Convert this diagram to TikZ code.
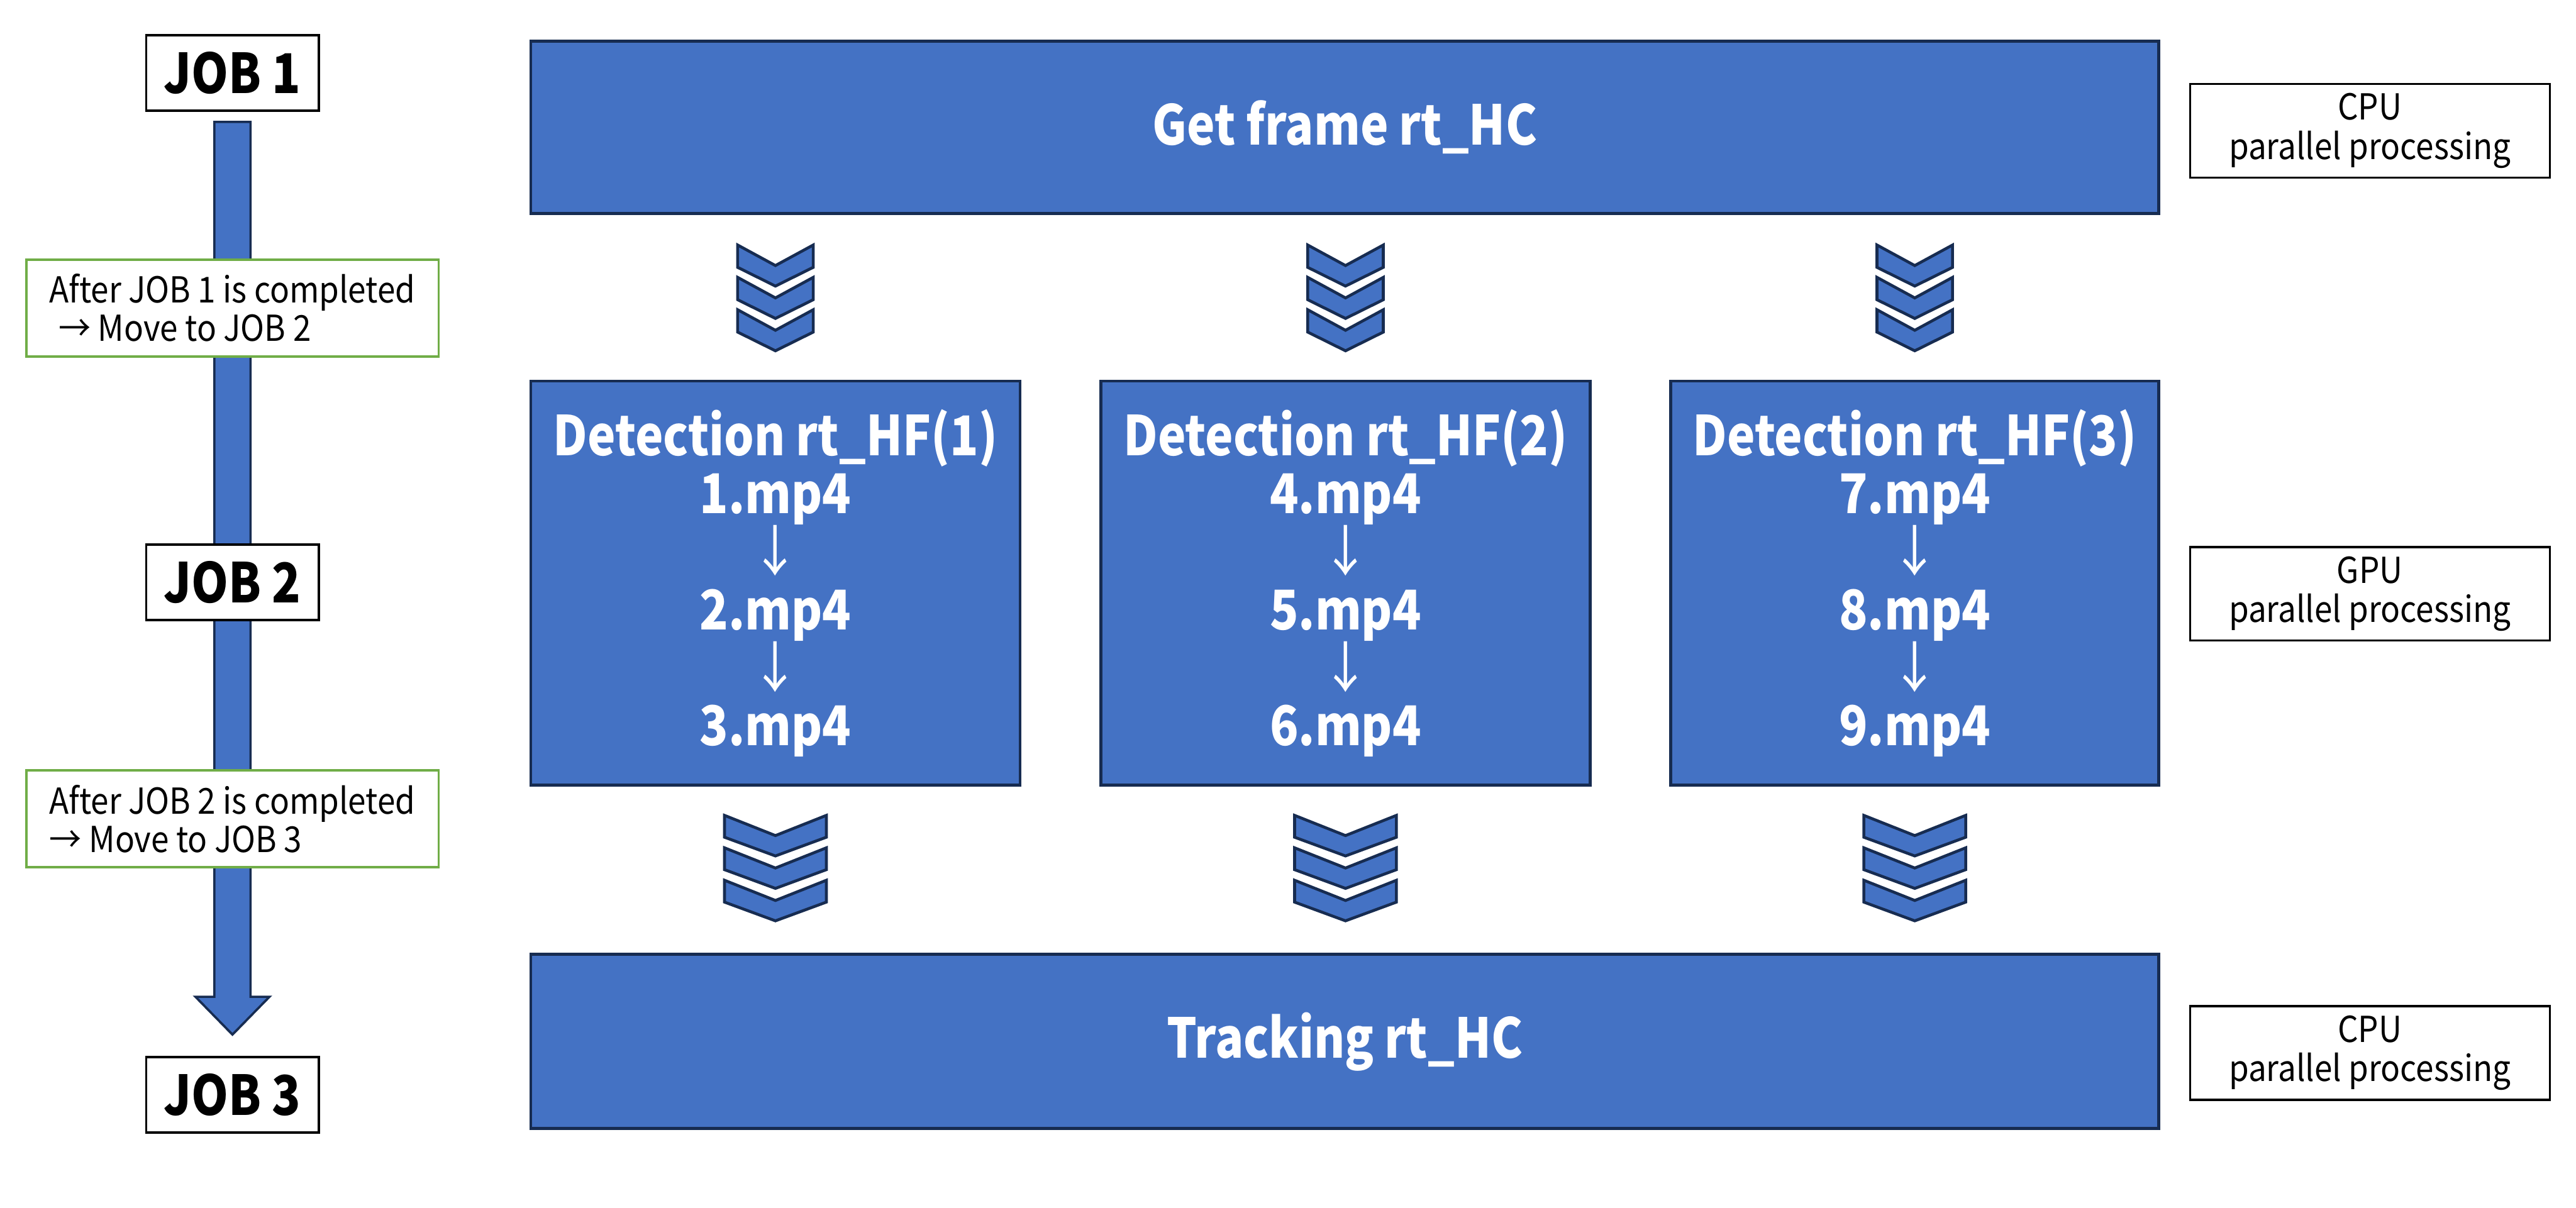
\documentclass[tikz,border=0pt]{standalone}
\usepackage{fontspec}
\setmainfont{Noto Sans CJK JP}[UprightFeatures={FakeStretch=0.9}, BoldFeatures={FakeStretch=0.86}]
\usetikzlibrary{calc}
\definecolor{boxblue}{HTML}{4472C4}
\definecolor{navy}{HTML}{172C51}
\definecolor{grn}{HTML}{70AD47}
\begin{document}
\begin{tikzpicture}[x=0.02cm,y=-0.02cm,
  bluebox/.style={draw=navy, line width=1pt, fill=boxblue, text=white, font=\fontsize{19}{20.1}\selectfont\bfseries, align=center, inner sep=0pt},
  jobbox/.style={draw=black, line width=0.8pt, fill=white, minimum width=2.1cm, minimum height=0.92cm, font=\fontsize{19}{22}\selectfont\bfseries, inner sep=0pt},
  notebox/.style={draw=grn, line width=0.8pt, fill=white, minimum width=5.02cm, minimum height=1.18cm, align=left, font=\fontsize{12.4}{13.3}\selectfont, inner sep=0pt},
  unitbox/.style={draw=black, line width=0.7pt, fill=white, minimum width=4.38cm, minimum height=1.14cm, align=center, font=\fontsize{12.4}{13.6}\selectfont, inner sep=0pt},
  chevline/.style={draw=navy, line width=1pt, fill=boxblue, line join=miter},
  bigarrow/.style={draw=navy, line width=0.8pt, fill=boxblue, line join=miter},
  chevtop/.pic={\foreach \k in {0,1,2}{\draw[chevline] (-23,{19.7*\k}) -- (0,{19.7*\k+12.5}) -- (23,{19.7*\k}) -- (23,{19.7*\k+13.6}) -- (0,{19.7*\k+25}) -- (-23,{19.7*\k+13.6}) -- cycle;}},
  chevbot/.pic={\foreach \k in {0,1,2}{\draw[chevline] (-31,{19.75*\k}) -- (0,{19.75*\k+12.3}) -- (31,{19.75*\k}) -- (31,{19.75*\k+13.3}) -- (0,{19.75*\k+24.7}) -- (-31,{19.75*\k+13.3}) -- cycle;}}
]
\useasboundingbox[fill=white] (0,0) rectangle (1568,735);

% job boxes and timeline arrow
\node[jobbox] (job1) at (141.5,44.5) {JOB 1};
\node[jobbox] (job3) at (141.5,666.5) {JOB 3};
\coordinate (atop) at ($(job1.south)+(0,6)$);
\coordinate (atip) at ($(job3.north)+(0,-13)$);
\draw[bigarrow] ($(atop)+(-11,0)$) -- ($(atop)+(11,0)$) -- ($(atip)+(11,-23)$) -- ($(atip)+(22.5,-23)$) -- (atip) -- ($(atip)+(-22.5,-23)$) -- ($(atip)+(-11,-23)$) -- cycle;
\node[jobbox] (job2) at (141.5,354.5) {JOB 2};
\node[notebox] (n1) at (141.5,187.5) {After JOB 1 is completed\\\hspace*{0.25em}→ Move to JOB 2};
\node[notebox] (n2) at (141.5,498.5) {After JOB 2 is completed\\→ Move to JOB 3};

% processing boxes
\node[bluebox, minimum width=19.82cm, minimum height=2.1cm] (getframe) at (818.5,77.5) {Get frame rt\_HC};
\node[bluebox, minimum width=5.96cm, minimum height=4.92cm] (det1) at (472,355) {Detection rt\_HF(1)\\1.mp4\\{\mdseries ↓}\\2.mp4\\{\mdseries ↓}\\3.mp4};
\node[bluebox, minimum width=5.96cm, minimum height=4.92cm] (det2) at (819,355) {Detection rt\_HF(2)\\4.mp4\\{\mdseries ↓}\\5.mp4\\{\mdseries ↓}\\6.mp4};
\node[bluebox, minimum width=5.94cm, minimum height=4.92cm] (det3) at (1165.5,355) {Detection rt\_HF(3)\\7.mp4\\{\mdseries ↓}\\8.mp4\\{\mdseries ↓}\\9.mp4};
\node[bluebox, minimum width=19.82cm, minimum height=2.12cm] (tracking) at (818.5,634) {Tracking rt\_HC};

% chevrons
\pic at ($(det1.north)+(0,-82)$) {chevtop};
\pic at ($(det2.north)+(0,-82)$) {chevtop};
\pic at ($(det3.north)+(0,-82)$) {chevtop};
\pic at ($(det1.south)+(0,17.5)$) {chevbot};
\pic at ($(det2.south)+(0,17.5)$) {chevbot};
\pic at ($(det3.south)+(0,17.5)$) {chevbot};

% unit boxes
\node[unitbox] (u1) at (1442.5,79.5) {CPU\\parallel processing};
\node[unitbox] (u2) at (1442.5,361.5) {GPU\\parallel processing};
\node[unitbox] (u3) at (1442.5,641) {CPU\\parallel processing};
\end{tikzpicture}
\end{document}
